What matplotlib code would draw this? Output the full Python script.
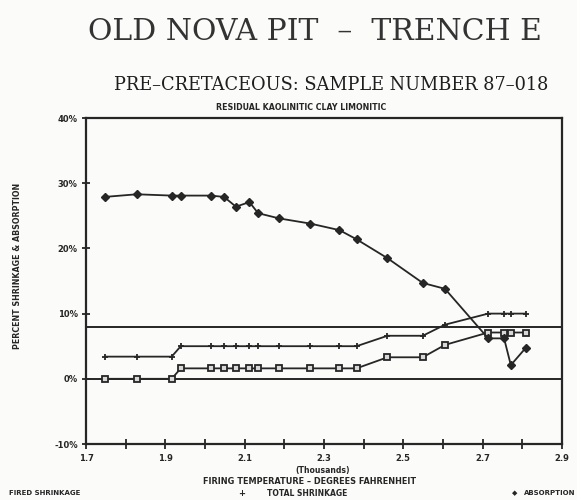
import matplotlib.pyplot as plt
from matplotlib.ticker import MultipleLocator, FuncFormatter

# firing temperatures (thousands of deg F)
temps = [1.748, 1.828, 1.916, 1.939, 2.014, 2.048, 2.078, 2.112, 2.134, 2.187,
         2.266, 2.339, 2.382, 2.460, 2.549, 2.605, 2.714, 2.754, 2.771, 2.808]

fired_shrinkage = [0.0, 0.0, 0.0, 1.6, 1.6, 1.6, 1.6, 1.6, 1.6, 1.6,
                   1.6, 1.6, 1.6, 3.3, 3.3, 5.2, 7.1, 7.1, 7.1, 7.1]
total_shrinkage = [3.4, 3.4, 3.4, 5.0, 5.0, 5.0, 5.0, 5.0, 5.0, 5.0,
                   5.0, 5.0, 5.0, 6.6, 6.6, 8.3, 10.0, 10.0, 10.0, 10.0]
absorption = [27.9, 28.3, 28.1, 28.1, 28.1, 27.9, 26.4, 27.1, 25.4, 24.6,
              23.8, 22.8, 21.4, 18.5, 14.7, 13.8, 6.2, 6.2, 2.1, 4.7]

ref_lines = [0, 8]
x_ticks = [1.7, 1.9, 2.1, 2.3, 2.5, 2.7, 2.9]
y_ticks = [-10, 0, 10, 20, 30, 40]

ink = '#262626'

fig = plt.figure(figsize=(5.77, 5.0), dpi=100)
fig.patch.set_facecolor('#fbfbf9')
ax = fig.add_axes([0.149, 0.112, 0.825, 0.652])
ax.set_facecolor('#fbfbf9')

for v in ref_lines:
    ax.axhline(v, color=ink, lw=1.4)

ax.plot(temps, fired_shrinkage, color=ink, lw=1.3, marker='s', ms=5,
        mfc='#d8d8d8', mec=ink, mew=1.3)
ax.plot(temps, total_shrinkage, color=ink, lw=1.3, marker='+', ms=5, mew=1.3)
ax.plot(temps, absorption, color=ink, lw=1.3, marker='D', ms=4, mfc=ink, mec=ink)

ax.set_xlim(1.7, 2.9)
ax.set_ylim(-10, 40)
ax.set_xticks(x_ticks)
ax.xaxis.set_minor_locator(MultipleLocator(0.1))
ax.set_yticks(y_ticks)
ax.yaxis.set_major_formatter(FuncFormatter(lambda v, p: '%d%%' % v))
ax.tick_params(axis='both', which='both', direction='inout', color=ink,
               width=1.3, labelsize=6, labelcolor=ink)
ax.tick_params(axis='x', which='major', length=7, pad=4)
ax.tick_params(axis='x', which='minor', length=7)
ax.tick_params(axis='y', length=6, pad=3)
for lab in ax.get_xticklabels() + ax.get_yticklabels():
    lab.set_fontweight('bold')
for s in ax.spines.values():
    s.set_color(ink)
    s.set_linewidth(1.6)

# titles
fig.text(0.546, 0.936, 'OLD NOVA PIT  \u2013  TRENCH E', ha='center', va='center',
         family='DejaVu Serif', fontsize=21.5, color='#333333')
fig.text(0.574, 0.830, 'PRE\u2013CRETACEOUS: SAMPLE NUMBER 87\u2013018', ha='center',
         va='center', family='DejaVu Serif', fontsize=12.8, color='#1e1e1e')
fig.text(0.522, 0.786, 'RESIDUAL KAOLINITIC CLAY LIMONITIC', ha='center', va='center',
         fontsize=5.7, fontweight='bold', color=ink)

# axis labels
fig.text(0.030, 0.468, 'PERCENT SHRINKAGE & ABSORPTION', rotation=90, ha='center',
         va='center', fontsize=5.7, fontweight='bold', color=ink)
fig.text(0.560, 0.058, '(Thousands)', ha='center', va='center', fontsize=5.6,
         fontweight='bold', color=ink)
fig.text(0.537, 0.036, 'FIRING TEMPERATURE \u2013 DEGREES FAHRENHEIT', ha='center',
         va='center', fontsize=5.9, fontweight='bold', color=ink)

# legend row along the bottom
fig.text(0.016, 0.014, 'FIRED SHRINKAGE', ha='left', va='center', fontsize=5.0,
         fontweight='bold', color=ink)
fig.text(0.418, 0.014, '+', ha='center', va='center', fontsize=6,
         fontweight='bold', color=ink)
fig.text(0.462, 0.014, 'TOTAL SHRINKAGE', ha='left', va='center', fontsize=5.5,
         fontweight='bold', color=ink)
fig.text(0.892, 0.014, '\u25c6', ha='center', va='center', fontsize=5, color=ink)
fig.text(0.997, 0.014, 'ABSORPTION', ha='right', va='center', fontsize=5.0,
         fontweight='bold', color=ink)

fig.savefig('out.png', dpi=100, facecolor=fig.get_facecolor())
